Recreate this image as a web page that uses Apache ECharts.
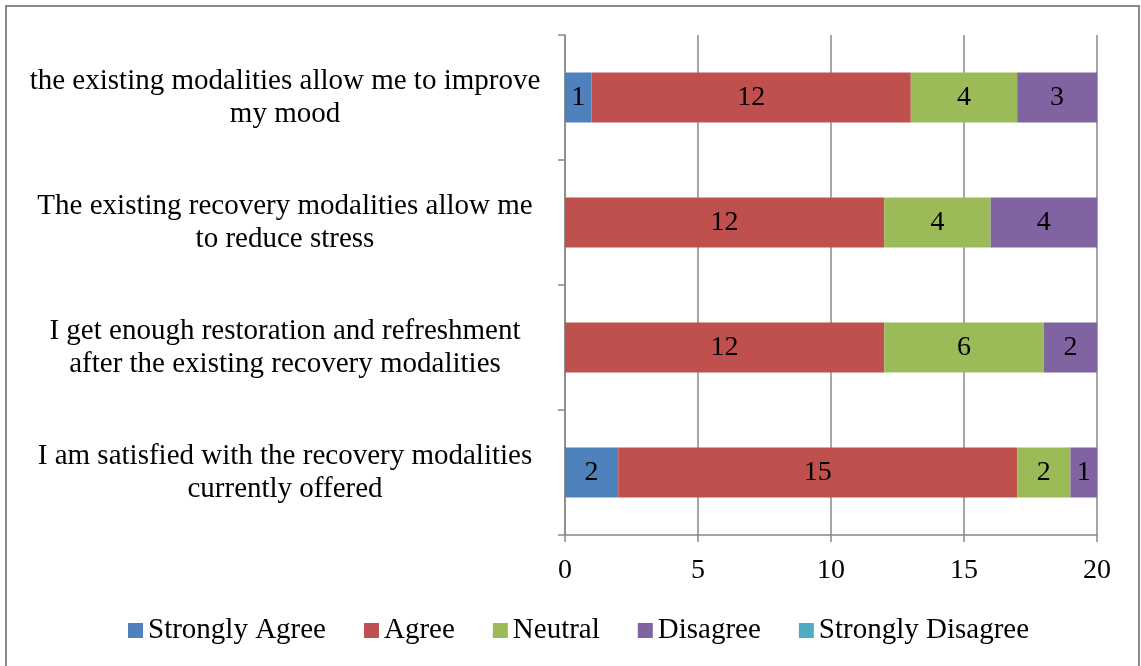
<!DOCTYPE html>
<html><head><meta charset="utf-8">
<script src="https://cdn.jsdelivr.net/npm/echarts@6/dist/echarts.min.js"></script>
<style>html,body{margin:0;padding:0;background:#fff}#c{width:1141px;height:666px}</style>
</head><body><div id="c"></div>
<script>
const categories = [
  "I am satisfied with the recovery modalities\ncurrently offered",
  "I get enough restoration and refreshment\nafter the existing recovery modalities",
  "The existing recovery modalities allow me\nto reduce stress",
  "the existing modalities allow me to improve\nmy mood"
];
const seriesNames = ["Strongly Agree", "Agree", "Neutral", "Disagree", "Strongly Disagree"];
const stronglyAgree = [2, 0, 0, 1];
const agree = [15, 12, 12, 12];
const neutral = [2, 6, 4, 4];
const disagree = [1, 2, 4, 3];
const stronglyDisagree = [0, 0, 0, 0];
const xTicks = [0, 5, 10, 15, 20];
const colors = ["#4F81BD", "#C0504D", "#9BBB59", "#8064A2", "#4BACC6"];

const font = "'Liberation Serif', 'Times New Roman', serif";
const allData = [stronglyAgree, agree, neutral, disagree, stronglyDisagree];
const chart = echarts.init(document.getElementById('c'), null, {renderer: 'canvas'});
chart.setOption({
  animation: false,
  color: colors,
  textStyle: {fontFamily: font},
  graphic: [{
    type: 'rect', shape: {x: 6, y: 6, width: 1133, height: 664},
    style: {fill: 'none', stroke: '#888', lineWidth: 2}, silent: true
  }],
  grid: {left: 565, right: 44, top: 35, bottom: 131},
  legend: {
    data: seriesNames, top: 611, left: 123,
    itemWidth: 15, itemHeight: 15, itemGap: 38,
    icon: 'rect',
    textStyle: {fontFamily: font, fontSize: 29, color: '#000'}
  },
  xAxis: {
    type: 'value', min: xTicks[0], max: xTicks[xTicks.length - 1], interval: 5,
    axisLine: {show: true, lineStyle: {color: '#888', width: 1.5}},
    axisTick: {show: true, length: 7, lineStyle: {color: '#888', width: 1.5}},
    splitLine: {show: true, lineStyle: {color: '#888', width: 1.5}},
    axisLabel: {fontFamily: font, fontSize: 28, color: '#000', margin: 22}
  },
  yAxis: {
    type: 'category', data: categories,
    axisLine: {show: true, lineStyle: {color: '#888', width: 1.5}},
    axisTick: {show: true, length: 7, lineStyle: {color: '#888', width: 1.5}},
    axisLabel: {fontFamily: font, fontSize: 29, color: '#000', margin: 280, align: 'center', lineHeight: 33}
  },
  series: seriesNames.map((n, i) => ({
    name: n, type: 'bar', stack: 'total', barWidth: 50,
    data: allData[i],
    label: {
      show: true, position: 'inside', fontFamily: font, fontSize: 28, color: '#000',
      formatter: p => p.value > 0 ? String(p.value) : ''
    }
  }))
});
</script></body></html>
